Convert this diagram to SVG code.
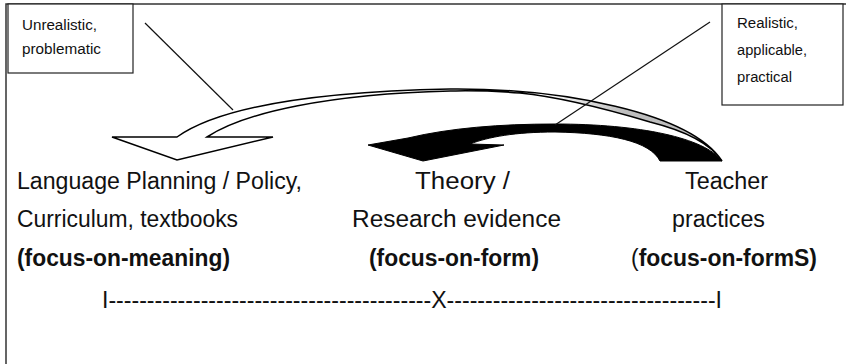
<svg xmlns="http://www.w3.org/2000/svg" width="846" height="364" viewBox="0 0 846 364">
<defs>
<style>
.frame{stroke:#333;stroke-width:1.5;fill:none}
.box{fill:#fff;stroke:#222;stroke-width:1.2}
.small{font-family:"Liberation Sans",Arial,sans-serif;font-size:15.5px;fill:#111}
.lbl{font-family:"Liberation Sans",Arial,sans-serif;font-size:23.5px;fill:#111}
.bold{font-weight:bold}
.lead{stroke:#111;stroke-width:1.2;fill:none}
</style>
<linearGradient id="twist" gradientUnits="userSpaceOnUse" x1="545" y1="0" x2="625" y2="0">
<stop offset="0" stop-color="#ffffff"/>
<stop offset="1" stop-color="#bdbdbd"/>
</linearGradient>
</defs>
<rect width="846" height="364" fill="#fff"/>
<path class="frame" d="M6,364 L6,4 L846,4"/>

<g id="note-unrealistic">
<rect class="box" x="8" y="4" width="125" height="69"/>
<text class="small" x="22" y="30" textLength="75" lengthAdjust="spacingAndGlyphs">Unrealistic,</text>
<text class="small" x="22" y="54" textLength="79" lengthAdjust="spacingAndGlyphs">problematic</text>
</g>

<g id="note-realistic">
<rect class="box" x="722" y="4" width="121" height="101"/>
<text class="small" x="737" y="28" textLength="61" lengthAdjust="spacingAndGlyphs">Realistic,</text>
<text class="small" x="737" y="55" textLength="70" lengthAdjust="spacingAndGlyphs">applicable,</text>
<text class="small" x="737" y="82" textLength="55" lengthAdjust="spacingAndGlyphs">practical</text>
</g>

<g id="connectors">
<path id="black-arrow" fill="#000" stroke="#000" stroke-width="1" d="M368,145 L408,138 C450,128 500,124 555,124 C640,124 705,138 722,161 L660,161 C650,141 610,133 555,132 C515,132 488,137 470,144 L504,145 L423,161 Z"/>
<path id="white-arrow" fill="url(#twist)" stroke="#000" stroke-width="1.5" stroke-linejoin="miter" d="M112,137 L177,137 C215,110 300,92 450,89 C560,88 690,112 722,161 C712,146 690,132 650,122 C610,110 560,97 520,93 C480,90 460,91 450,91 C330,94 245,112 207,137 L273,137 L177,160 Z"/>
<line class="lead" x1="145" y1="23" x2="233" y2="110"/>
<line class="lead" x1="710" y1="22" x2="555" y2="125"/>
</g>

<g id="node-policy">
<text class="lbl" x="17" y="189" textLength="285" lengthAdjust="spacingAndGlyphs">Language Planning / Policy,</text>
<text class="lbl" x="17" y="227" textLength="221" lengthAdjust="spacingAndGlyphs">Curriculum, textbooks</text>
<text class="lbl bold" x="17" y="266" textLength="213" lengthAdjust="spacingAndGlyphs">(focus-on-meaning)</text>
</g>

<g id="node-theory">
<text class="lbl" x="415" y="189" textLength="95" lengthAdjust="spacingAndGlyphs">Theory /</text>
<text class="lbl" x="352" y="227" textLength="209" lengthAdjust="spacingAndGlyphs">Research evidence</text>
<text class="lbl bold" x="369" y="266" textLength="170" lengthAdjust="spacingAndGlyphs">(focus-on-form)</text>
</g>

<g id="node-teacher">
<text class="lbl" x="685" y="189" textLength="83" lengthAdjust="spacingAndGlyphs">Teacher</text>
<text class="lbl" x="672" y="227" textLength="93" lengthAdjust="spacingAndGlyphs">practices</text>
<text class="lbl" x="631" y="266" textLength="186" lengthAdjust="spacingAndGlyphs">(<tspan class="bold">focus-on-formS)</tspan></text>
</g>

<g id="scale">
<text class="lbl" x="102" y="308" textLength="620" lengthAdjust="spacingAndGlyphs">I------------------------------------------X-----------------------------------I</text>
</g>
</svg>
